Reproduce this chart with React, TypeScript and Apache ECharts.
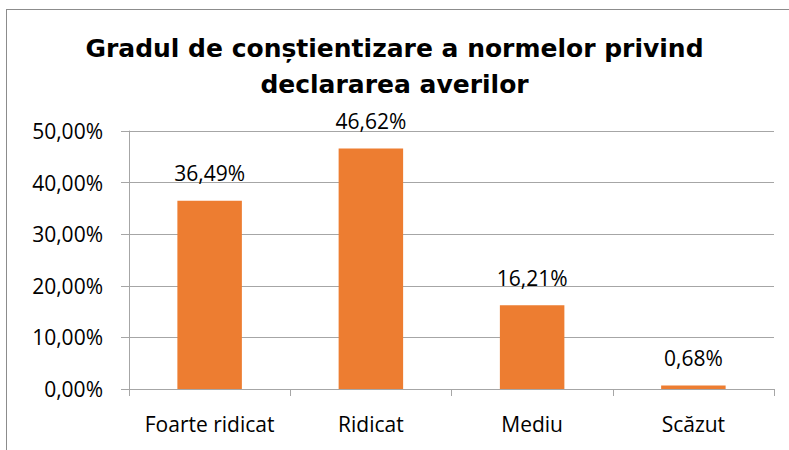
import React, { useEffect, useRef } from "react";
import * as echarts from "echarts";

const titleText = "Gradul de conștientizare a normelor privind\ndeclararea averilor";
const categories = ["Foarte ridicat", "Ridicat", "Mediu", "Scăzut"];
const values = [36.49, 46.62, 16.21, 0.68];
const yMin = 0;
const yMax = 50;
const yInterval = 10;

const fmt = (v: number) => v.toFixed(2).replace(".", ",") + "%";

export default function App() {
  const ref = useRef<HTMLDivElement>(null);
  useEffect(() => {
    if (!ref.current) return;
    const chart = echarts.init(ref.current, null, { renderer: "svg" });
    const font = "'Open Sans', 'Noto Sans', sans-serif";
    chart.setOption({
      animation: false,
      backgroundColor: "#ffffff",
      title: {
        text: titleText,
        left: "center",
        top: 25,
        textStyle: {
          fontFamily: "'DejaVu Sans', sans-serif",
          fontWeight: "bold",
          fontSize: 25,
          lineHeight: 36,
          color: "#000000",
        },
      },
      graphic: [
        {
          type: "line",
          shape: { x1: 6, y1: 9.5, x2: 789, y2: 9.5 },
          style: { stroke: "#8c8c8c", lineWidth: 1 },
        },
        {
          type: "line",
          shape: { x1: 6.5, y1: 9, x2: 6.5, y2: 450 },
          style: { stroke: "#8c8c8c", lineWidth: 1 },
        },
      ],
      grid: { left: 129, right: 15, top: 131, bottom: 61, containLabel: false },
      xAxis: {
        type: "category",
        data: categories,
        axisLine: { show: true, lineStyle: { color: "#a6a6a6", width: 1 } },
        axisTick: { show: true, length: 7, alignWithLabel: false, lineStyle: { color: "#a6a6a6" } },
        axisLabel: { color: "#000000", fontFamily: font, fontSize: 21, margin: 24, interval: 0 },
        splitLine: { show: false },
      },
      yAxis: {
        type: "value",
        min: yMin,
        max: yMax,
        interval: yInterval,
        axisLine: { show: true, lineStyle: { color: "#a6a6a6", width: 1 } },
        axisTick: { show: true, length: 8, lineStyle: { color: "#a6a6a6" } },
        axisLabel: {
          color: "#000000",
          fontFamily: font,
          fontSize: 21,
          margin: 26,
          formatter: (v: number) => fmt(v),
        },
        splitLine: { show: true, lineStyle: { color: "#a6a6a6", width: 1 } },
      },
      series: [
        {
          type: "bar",
          data: values,
          barCategoryGap: "60%",
          itemStyle: { color: "#ED7D31" },
          label: {
            show: true,
            position: "top",
            distance: 17,
            color: "#000000",
            fontFamily: font,
            fontSize: 21,
            formatter: (p: any) => fmt(p.value),
          },
        },
      ],
    });
    return () => chart.dispose();
  }, []);
  return (
    <div
      ref={ref}
      style={{ position: "fixed", left: 0, top: 0, width: 789, height: 450 }}
    />
  );
}
